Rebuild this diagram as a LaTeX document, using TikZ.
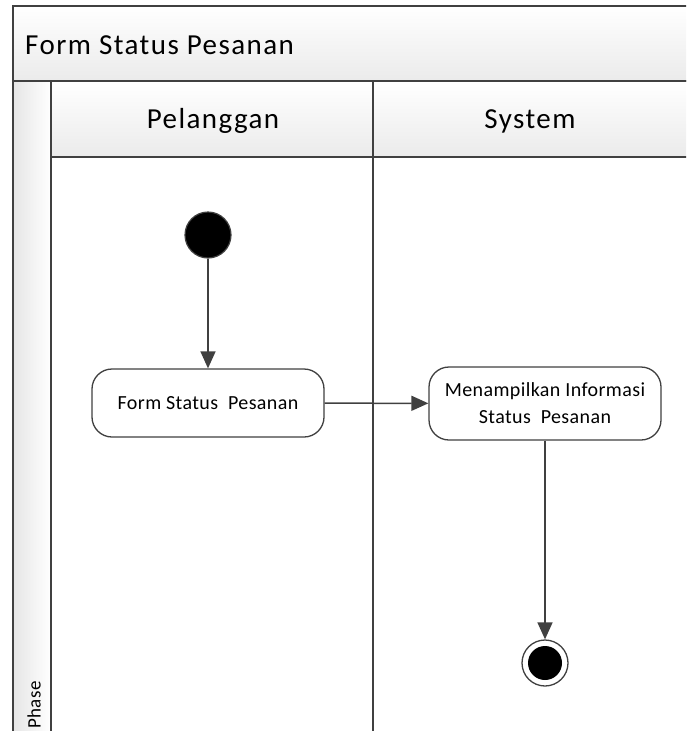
\documentclass[tikz,border=0pt]{standalone}
\usepackage{fontspec}
\setmainfont{Carlito}
\newfontfamily\ttlfont[LetterSpace=5]{Carlito}
\newfontfamily\actfont[LetterSpace=2]{Carlito}
\usetikzlibrary{arrows.meta}
\definecolor{ln}{HTML}{404040}
\tikzset{
  frame/.style={draw=ln, line width=1.6pt},
  hdr/.style={frame, top color=white, bottom color=black!8},
  big/.style={font=\ttlfont\fontsize{29}{32}\selectfont},
  act/.style={draw=ln, line width=1.3pt, rounded corners=20pt, fill=white, align=center, font=\actfont\fontsize{20}{27}\selectfont},
  flow/.style={draw=ln, line width=1.5pt, -{Triangle[length=17pt,width=15pt]}},
}
\begin{document}
\begin{tikzpicture}[x=1pt,y=-1pt]
\useasboundingbox (0,0) rectangle (686,731);
\clip (0,0) rectangle (686,731);
% pool title
\path[hdr] (13,6) rectangle (720,81);
\node[anchor=west, big, inner sep=0pt] (title) at (25,45) {Form Status Pesanan};
% phase column
\path[frame, left color=black!10, right color=white] (13,81) rectangle (51,760);
\node[rotate=90, anchor=west, font=\actfont\fontsize{19}{22}\selectfont, inner sep=0pt] (phase) at (34,729) {Phase};
% lane headers
\path[hdr] (51,81) rectangle (373,157);
\path[hdr] (373,81) rectangle (720,157);
\node[big] (l1) at (213,121) {Pelanggan};
\node[big] (l2) at (530,121) {System};
% lane bodies
\draw[frame] (51,157) -- (51,760);
\draw[frame] (373,157) -- (373,760);
% activity nodes
\node[circle, fill=black, draw=ln, line width=1.2pt, minimum size=46pt, inner sep=0pt] (start) at (208,235) {};
\node[act, minimum width=232pt, minimum height=68pt] (a1) at (208,403) {Form Status\ \ Pesanan};
\node[act, minimum width=232pt, minimum height=73pt] (a2) at (545,403.5) {Menampilkan Informasi\\Status\ \ Pesanan};
\node[circle, draw=ln, line width=1.3pt, fill=white, minimum size=46pt, inner sep=0pt] (end) at (545,663) {};
\node[circle, fill=black, minimum size=34pt, inner sep=0pt] (endin) at (end) {};
% flows
\draw[flow] (start) -- (a1);
\draw[flow] (a1) -- (a2);
\draw[flow] (a2) -- (end);
\end{tikzpicture}
\end{document}
